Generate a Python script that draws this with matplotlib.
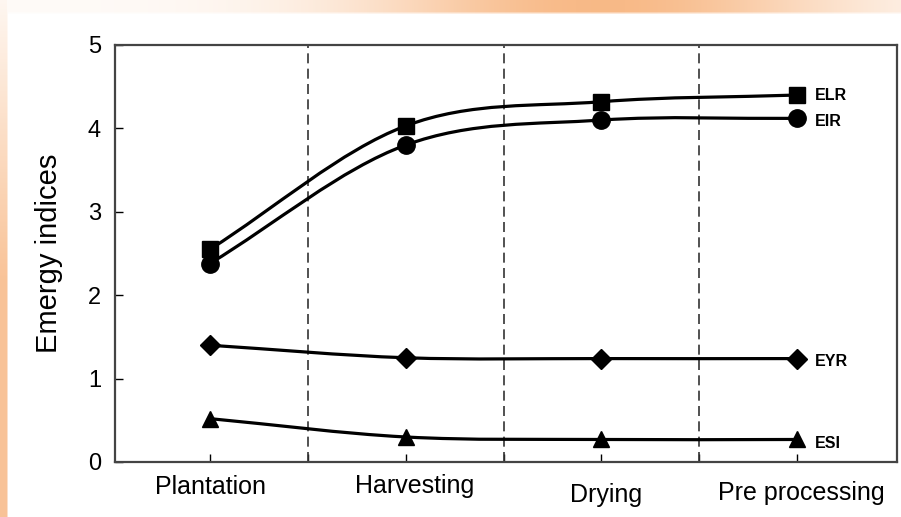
import numpy as np
import matplotlib.pyplot as plt
from matplotlib.path import Path
from matplotlib.patches import PathPatch

plt.rcParams['font.family'] = ['Liberation Sans', 'DejaVu Sans']

stages = ['Plantation', 'Harvesting', 'Drying', 'Pre processing']
elr = [2.55, 4.03, 4.32, 4.40]
eir = [2.38, 3.80, 4.10, 4.12]
eyr = [1.40, 1.25, 1.24, 1.24]
esi = [0.52, 0.30, 0.27, 0.27]
names = ['ELR', 'EIR', 'EYR', 'ESI']
yticks = [0, 1, 2, 3, 4, 5]

markers = ['s', 'o', 'D', '^']
msizes = [12, 12.5, 10, 12]
name_dy = [0, -2, -2, -3]       # label offsets (points)
stage_dx = [1, 9, 5, 4]         # label offsets (pixels)
stage_base = [494, 493, 502, 500]  # baseline row in pixels


def smooth_path(xs, ys):
    # cubic Hermite curve through the points, as Bezier segments
    xs = np.asarray(xs, float)
    ys = np.asarray(ys, float)
    m = np.gradient(ys, xs)
    verts = [(xs[0], ys[0])]
    codes = [Path.MOVETO]
    for i in range(len(xs) - 1):
        h = xs[i + 1] - xs[i]
        verts += [(xs[i] + h / 3, ys[i] + m[i] * h / 3),
                  (xs[i + 1] - h / 3, ys[i + 1] - m[i + 1] * h / 3),
                  (xs[i + 1], ys[i + 1])]
        codes += [Path.CURVE4] * 3
    return Path(verts, codes)


W, H = 901, 517
fig = plt.figure(figsize=(W / 100, H / 100), dpi=100)

# peach border decoration (top and left edges)
orange = np.array([248, 186, 136]) / 255
bg = np.ones((H, W, 3))
xx = np.arange(W)
yy = np.arange(H)
top_w = 0.95 * np.exp(-((xx - 600) / 240.0) ** 2) + 0.06
top_rows = np.clip((14 - yy) / 3.0, 0, 1)
left_w = 0.12 + 0.75 * np.clip(yy / 280.0, 0, 1)
left_cols = np.clip((8 - xx) / 2.0, 0, 1)
wt = np.maximum(top_rows[:, None] * top_w[None, :],
                left_cols[None, :] * left_w[:, None])
bg = bg * (1 - wt[..., None]) + orange[None, None, :] * wt[..., None]
fig.figimage(bg, xo=0, yo=0, origin='upper', zorder=-1)

ax = fig.add_axes([115 / W, 55 / H, 782 / W, 417 / H])
ax.set_facecolor('none')

x = np.arange(len(stages))
for vals, name, mk, ms, dy in zip([elr, eir, eyr, esi], names, markers, msizes, name_dy):
    ax.add_patch(PathPatch(smooth_path(x, vals), fill=False, lw=2.3,
                           color='black', zorder=3, capstyle='round'))
    ax.plot(x, vals, linestyle='none', marker=mk, ms=ms, color='black', zorder=4)
    ax.annotate(name, (x[-1], vals[-1]), xytext=(13, dy), textcoords='offset points',
                ha='left', va='center', fontsize=11.5, fontweight='bold')

for xv in [0.5, 1.5, 2.5]:
    ax.axvline(xv, color='#333333', lw=1.2, linestyle=(0, (6, 3.2)), zorder=2)

ax.set_xlim(-0.485, 3.51)
ax.set_ylim(0, 5)
ax.set_yticks(yticks)
ax.set_xticks(np.arange(0, 3.01, 0.5))
ax.set_xticklabels([])
ax.tick_params(axis='y', direction='in', length=6, width=1, labelsize=17, pad=10)
ax.tick_params(axis='x', direction='in', length=6, width=1)
for sp in ax.spines.values():
    sp.set_color('#444444')
    sp.set_linewidth(1.6)

ax.set_ylabel('Emergy indices', fontsize=21)
ax.yaxis.set_label_coords(-0.066, 0.5)

for i, (lab, dx, base) in enumerate(zip(stages, stage_dx, stage_base)):
    px = ax.transData.transform((x[i], 0))[0] + dx
    fig.text(px / W, 1 - base / H, lab, ha='center', va='baseline', fontsize=18)

fig.savefig('out.png', dpi=100)
